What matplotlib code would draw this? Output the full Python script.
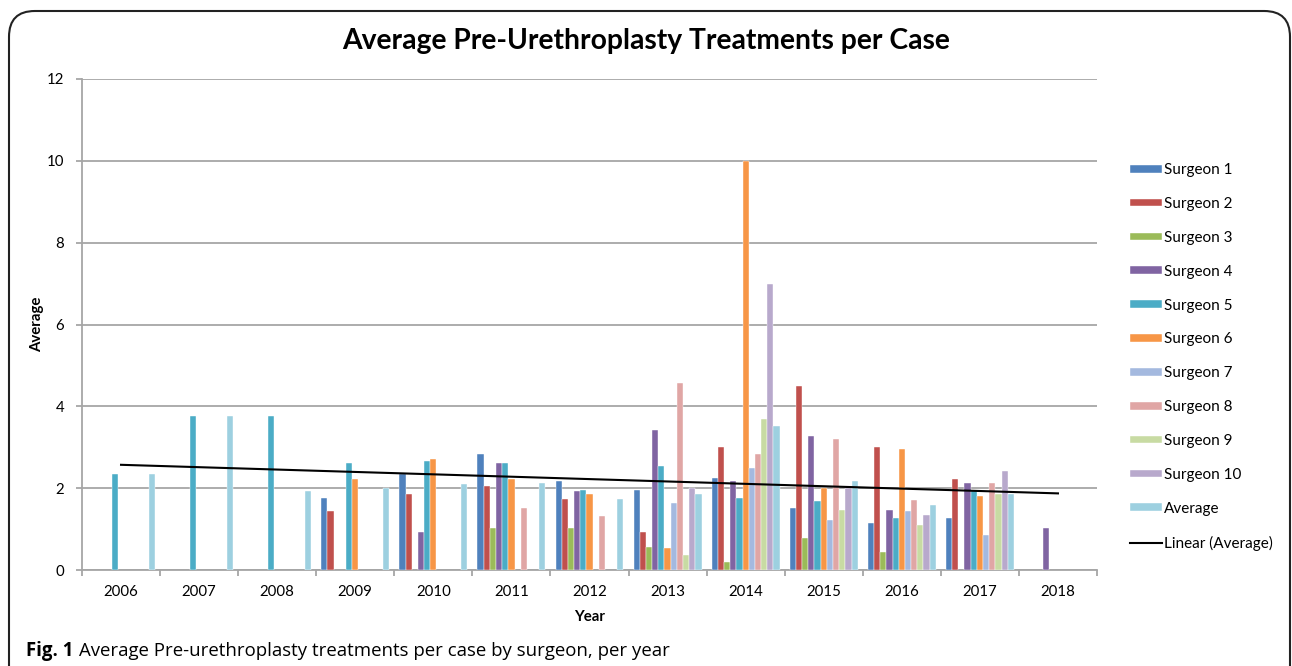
import numpy as np
import matplotlib
matplotlib.use("Agg")
import matplotlib.pyplot as plt
from matplotlib.patches import FancyBboxPatch, Patch
from matplotlib.lines import Line2D

nan = np.nan
years = ["2006", "2007", "2008", "2009", "2010", "2011", "2012",
         "2013", "2014", "2015", "2016", "2017", "2018"]

surgeon_1 = [nan, nan, nan, 1.77, 2.35, 2.83, 2.18, 1.96, 2.26, 1.52, 1.14, 1.26, nan]
surgeon_2 = [nan, nan, nan, 1.43, 1.85, 2.05, 1.73, 0.94, 3.00, 4.49, 3.00, 2.22, nan]
surgeon_3 = [nan, nan, nan, nan, nan, 1.02, 1.02, 0.56, 0.20, 0.78, 0.44, nan, nan]
surgeon_4 = [nan, nan, nan, nan, 0.94, 2.62, 1.93, 3.41, 2.18, 3.28, 1.47, 2.13, 1.02]
surgeon_5 = [2.34, 3.77, 3.77, 2.62, 2.67, 2.62, 1.96, 2.54, 1.76, 1.68, 1.27, 1.96, nan]
surgeon_6 = [nan, nan, nan, 2.22, 2.71, 2.22, 1.85, 0.53, 10.0, 2.01, 2.96, 1.81, nan]
surgeon_7 = [nan, nan, nan, nan, nan, nan, nan, 1.63, 2.50, 1.22, 1.43, 0.86, nan]
surgeon_8 = [nan, nan, nan, nan, nan, 1.52, 1.31, 4.56, 2.83, 3.20, 1.72, 2.13, nan]
surgeon_9 = [nan, nan, nan, nan, nan, nan, nan, 0.36, 3.69, 1.47, 1.10, 1.85, nan]
surgeon_10 = [nan, nan, nan, nan, nan, nan, nan, 2.01, 7.00, 2.01, 1.35, 2.42, nan]
average = [2.34, 3.77, 1.92, 2.01, 2.10, 2.13, 1.73, 1.85, 3.53, 2.18, 1.60, 1.85, nan]

series = [surgeon_1, surgeon_2, surgeon_3, surgeon_4, surgeon_5, surgeon_6,
          surgeon_7, surgeon_8, surgeon_9, surgeon_10, average]
labels = ["Surgeon 1", "Surgeon 2", "Surgeon 3", "Surgeon 4", "Surgeon 5",
          "Surgeon 6", "Surgeon 7", "Surgeon 8", "Surgeon 9", "Surgeon 10",
          "Average"]
colors = ["#4F81BD", "#C0504D", "#9BBB59", "#8064A2", "#4BACC6", "#F79646",
          "#A4B9DF", "#E0A6A5", "#C8DBA3", "#B8A9CC", "#9DD0E0"]

plt.rcParams['font.family'] = ['Lato', 'DejaVu Sans']

fig = plt.figure(figsize=(12.92, 6.66), dpi=100)
ax = fig.add_axes([82 / 1292, 96 / 666, 1015 / 1292, 491 / 666])

x = np.arange(len(years))
w = 0.0791
for i, (vals, lab, col) in enumerate(zip(series, labels, colors)):
    ax.bar(x + (i - 5) * w, vals, width=w, color=col, label=lab,
           edgecolor="white", linewidth=0.3, zorder=3)

# linear trend of the average series
avg = np.array(average)
ok = ~np.isnan(avg)
coef = np.polyfit(x[ok], avg[ok], 1)
ax.plot(x, np.polyval(coef, x), color="black", linewidth=1.5, zorder=4)

grid_c = "#A6A6A6"
ax.set_xlim(-0.5, len(years) - 0.5)
ax.set_ylim(0, 12)
ax.set_yticks(range(0, 13, 2))
ax.yaxis.grid(True, color=grid_c, linewidth=1.3, zorder=0)
ax.set_xticks(x)
ax.set_xticklabels(years)
ax.set_xticks(np.arange(-0.5, len(years), 1), minor=True)
ax.tick_params(axis="x", which="major", length=0, pad=11, labelsize=10.8)
ax.tick_params(axis="x", which="minor", length=4, width=1.3, color=grid_c)
ax.tick_params(axis="y", length=4, width=1.3, color=grid_c, pad=9, labelsize=10.8)
for s in ["top", "right"]:
    ax.spines[s].set_visible(False)
for s in ["left", "bottom"]:
    ax.spines[s].set_color(grid_c)
    ax.spines[s].set_linewidth(1.3)

ax.set_xlabel("Year", fontsize=10.8, fontweight="bold", labelpad=8)
ax.set_ylabel("Average", fontsize=10.8, fontweight="bold", labelpad=2)
fig.text(0.5, 1 - 41 / 666, "Average Pre-Urethroplasty Treatments per Case",
         ha="center", va="center", fontsize=20.3, fontweight="bold")

handles = [Patch(facecolor=c, edgecolor="white", linewidth=0.3) for c in colors]
handles.append(Line2D([0], [0], color="black", linewidth=1.5))
fig.legend(handles, labels + ["Linear (Average)"], loc="upper left",
           bbox_to_anchor=(1124 / 1292, 1 - 157 / 666), frameon=False,
           fontsize=11, handlelength=2.1, handleheight=0.4,
           handletextpad=0.1, labelspacing=1.3, borderaxespad=0)

box = FancyBboxPatch((9 / 1292, -0.1), 1281 / 1292, 1.1 - 11 / 666,
                     boxstyle="round,pad=0,rounding_size=0.02",
                     transform=fig.transFigure, fill=False,
                     edgecolor="#222222", linewidth=1.5, mutation_aspect=1292 / 666)
fig.patches.append(box)

cap_y = 1 - 651 / 666
fig_lbl = fig.text(26 / 1292, cap_y, "Fig. 1", fontsize=13.4, fontweight="bold",
                   ha="left", va="center", family="Open Sans")
fig.canvas.draw()
bb = fig_lbl.get_window_extent()
fig.text((bb.x1 + 6) / 1292, cap_y,
         "Average Pre-urethroplasty treatments per case by surgeon, per year",
         fontsize=13.4, ha="left", va="center", family="Open Sans")

fig.savefig("out.png", dpi=100)
